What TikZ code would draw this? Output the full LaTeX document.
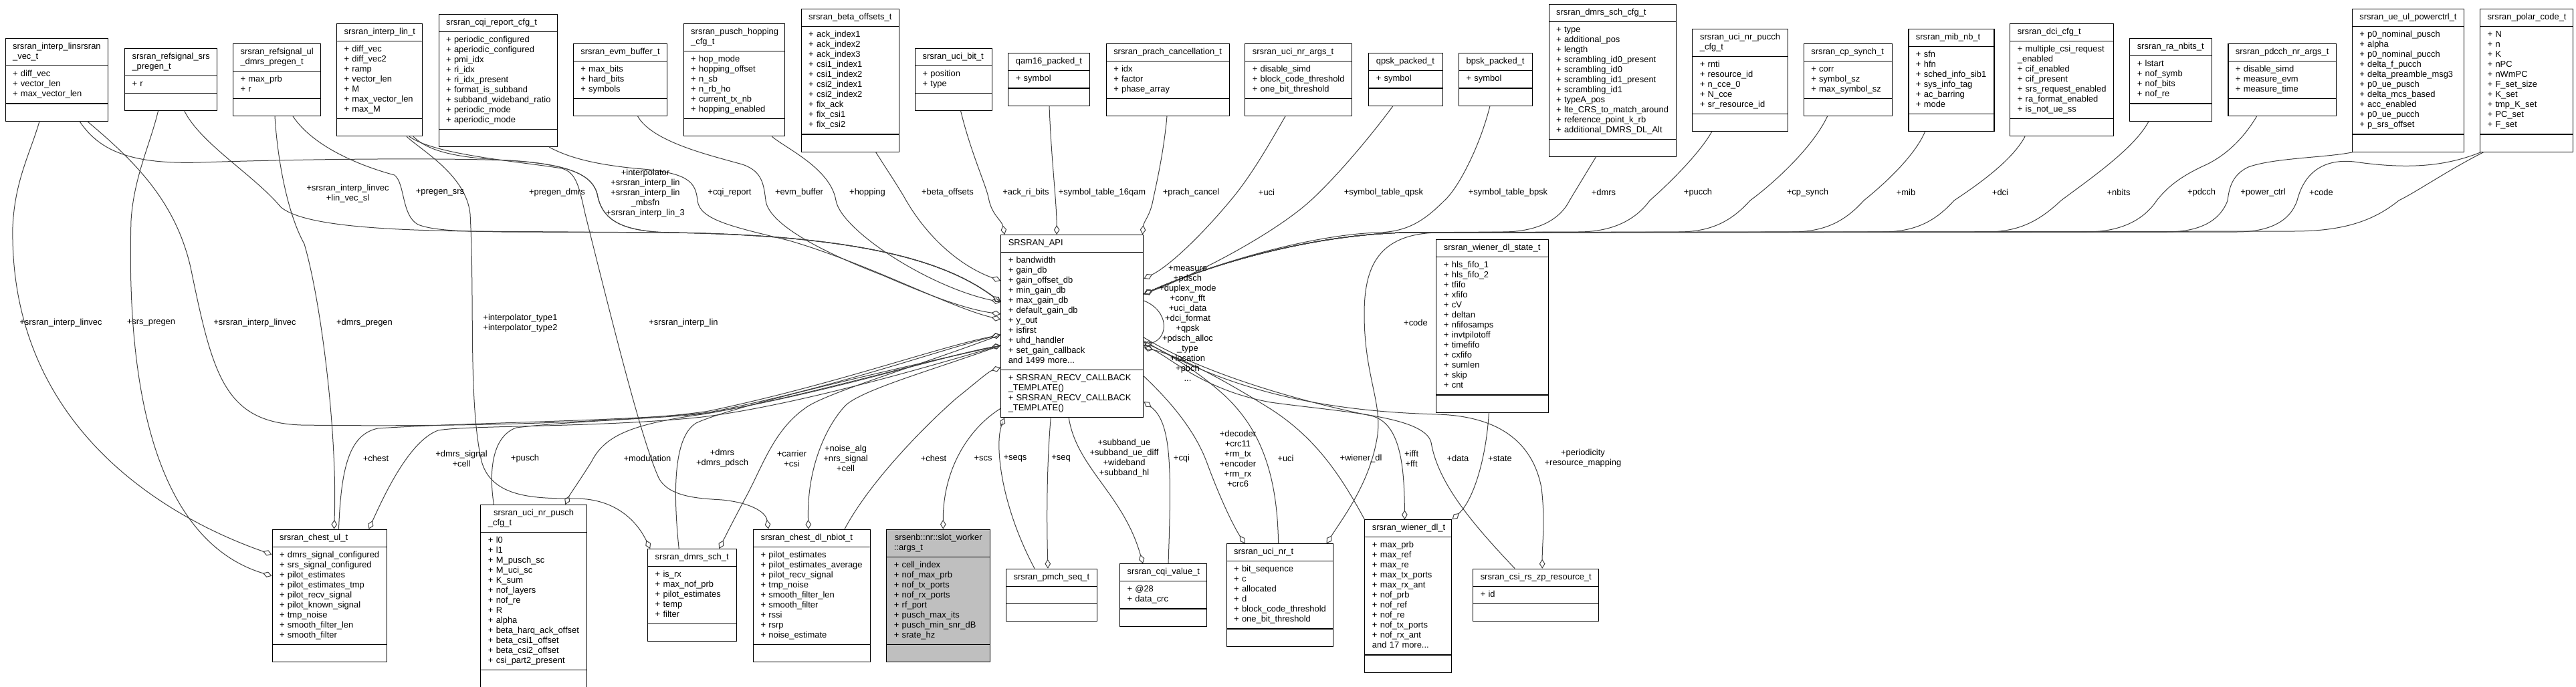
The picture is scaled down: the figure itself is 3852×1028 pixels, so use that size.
\documentclass[tikz,border=0pt]{standalone}
\usepackage{fontspec}
\setmainfont{Liberation Sans}
\usetikzlibrary{arrows.meta}
\usetikzlibrary{positioning}
\usetikzlibrary{shapes.multipart}
\usetikzlibrary{calc}

\newcommand{\umlfont}{\fontsize{9.7pt}{11.25pt}\selectfont\hyphenpenalty=10000\exhyphenpenalty=10000\hbadness=10000\hfuzz=20pt}
\tikzset{
  umlbox/.style={rectangle split, rectangle split parts=3, draw=black, line width=0.8pt,
    fill=white, inner xsep=8.25pt, inner ysep=3.75pt, anchor=north west, font=\umlfont, align=left},
  rel/.style={draw=black!75, line width=0.75pt, -{Diamond[open,length=10.5pt,width=6.5pt]}},
  lbl/.style={font=\umlfont, align=center, inner sep=0pt},
}
% [style] name, x, y, width, title, attributes, methods
\newcommand{\umlclass}[8][]{%
  \pgfmathsetlengthmacro{\umltw}{#5*0.75pt-16.5pt}%
  \node[umlbox, text width=\umltw, #1] (#2) at (#3,#4)
    {\centering\strut#6\strut\nodepart{two}\raggedright\strut#7\strut\nodepart{three}\raggedright\strut#8\strut};%
}

\begin{document}
\catcode`\_=12
\begin{tikzpicture}[x=0.75pt, y=-0.75pt]
  \useasboundingbox (0,0) rectangle (3852,1028);

  % top row
  \umlclass{linvec}{7.6}{57.3}{153}{srsran_interp_linsrsran\\_vec_t}{+~diff_vec\\+~vector_len\\+~max_vector_len}{}
  \umlclass{srspregen}{186}{71.7}{138}{srsran_refsignal_srs\\_pregen_t}{+~r}{}
  \umlclass{dmrspregen}{348}{64.7}{130.5}{srsran_refsignal_ul\\_dmrs_pregen_t}{+~max_prb\\+~r}{}
  \umlclass{interplin}{503}{35}{127.5}{srsran_interp_lin_t}{+~diff_vec\\+~diff_vec2\\+~ramp\\+~vector_len\\+~M\\+~max_vector_len\\+~max_M}{}
  \umlclass{cqirep}{655.6}{20.7}{177}{srsran_cqi_report_cfg_t}{+~periodic_configured\\+~aperiodic_configured\\+~pmi_idx\\+~ri_idx\\+~ri_idx_present\\+~format_is_subband\\+~subband_wideband_ratio\\+~periodic_mode\\+~aperiodic_mode}{}
  \umlclass{evmbuf}{856.8}{64.7}{140}{srsran_evm_buffer_t}{+~max_bits\\+~hard_bits\\+~symbols}{}
  \umlclass{hopping}{1021.7}{35}{151.6}{srsran_pusch_hopping\\_cfg_t}{+~hop_mode\\+~hopping_offset\\+~n_sb\\+~n_rb_ho\\+~current_tx_nb\\+~hopping_enabled}{}
  \umlclass{betaoff}{1197.7}{13.3}{146.3}{srsran_beta_offsets_t}{+~ack_index1\\+~ack_index2\\+~ack_index3\\+~csi1_index1\\+~csi1_index2\\+~csi2_index1\\+~csi2_index2\\+~fix_ack\\+~fix_csi1\\+~fix_csi2}{}
  \umlclass{ucibit}{1368}{71.7}{115}{srsran_uci_bit_t}{+~position\\+~type}{}
  \umlclass{qam16}{1507.3}{79.3}{121.6}{qam16_packed_t}{+~symbol}{}
  \umlclass{prach}{1653.7}{64.7}{184}{srsran_prach_cancellation_t}{+~idx\\+~factor\\+~phase_array}{}
  \umlclass{ucinrargs}{1861.3}{64.7}{160}{srsran_uci_nr_args_t}{+~disable_simd\\+~block_code_threshold\\+~one_bit_threshold}{}
  \umlclass{qpsk}{2046.3}{79.3}{110.2}{qpsk_packed_t}{+~symbol}{}
  \umlclass{bpsk}{2181}{79.3}{110.2}{bpsk_packed_t}{+~symbol}{}
  \umlclass{dmrsschcfg}{2315.6}{5.7}{190.7}{srsran_dmrs_sch_cfg_t}{+~type\\+~additional_pos\\+~length\\+~scrambling_id0_present\\+~scrambling_id0\\+~scrambling_id1_present\\+~scrambling_id1\\+~typeA_pos\\+~lte_CRS_to_match_around\\+~reference_point_k_rb\\+~additional_DMRS_DL_Alt}{}
  \umlclass{ucipucch}{2530.3}{42.7}{142.5}{srsran_uci_nr_pucch\\_cfg_t}{+~rnti\\+~resource_id\\+~n_cce_0\\+~N_cce\\+~sr_resource_id}{}
  \umlclass{cpsynch}{2696.8}{64.7}{131.7}{srsran_cp_synch_t}{+~corr\\+~symbol_sz\\+~max_symbol_sz}{}
  \umlclass{mibnb}{2853.4}{42.7}{128}{srsran_mib_nb_t}{+~sfn\\+~hfn\\+~sched_info_sib1\\+~sys_info_tag\\+~ac_barring\\+~mode}{}
  \umlclass{dcicfg}{3005.3}{35}{155}{srsran_dci_cfg_t}{+~multiple_csi_request\\_enabled\\+~cif_enabled\\+~cif_present\\+~srs_request_enabled\\+~ra_format_enabled\\+~is_not_ue_ss}{}
  \umlclass{ranbits}{3184.2}{57.3}{122.7}{srsran_ra_nbits_t}{+~lstart\\+~nof_symb\\+~nof_bits\\+~nof_re}{}
  \umlclass{pdcchargs}{3331.4}{64.7}{161.3}{srsran_pdcch_nr_args_t}{+~disable_simd\\+~measure_evm\\+~measure_time}{}
  \umlclass{powerctrl}{3516.8}{13.3}{166.8}{srsran_ue_ul_powerctrl_t}{+~p0_nominal_pusch\\+~alpha\\+~p0_nominal_pucch\\+~delta_f_pucch\\+~delta_preamble_msg3\\+~p0_ue_pusch\\+~delta_mcs_based\\+~acc_enabled\\+~p0_ue_pucch\\+~p_srs_offset}{}
  \umlclass{polar}{3708.1}{13.3}{139}{srsran_polar_code_t}{+~N\\+~n\\+~K\\+~nPC\\+~nWmPC\\+~F_set_size\\+~K_set\\+~tmp_K_set\\+~PC_set\\+~F_set}{}

  % middle
  \umlclass{api}{1496.2}{351}{213.2}{SRSRAN_API}{+~bandwidth\\+~gain_db\\+~gain_offset_db\\+~min_gain_db\\+~max_gain_db\\+~default_gain_db\\+~y_out\\+~isfirst\\+~uhd_handler\\+~set_gain_callback\\and~1499~more...}{+~SRSRAN_RECV_CALLBACK\\_TEMPLATE()\\+~SRSRAN_RECV_CALLBACK\\_TEMPLATE()}
  \umlclass{wienerstate}{2147.4}{358.3}{167.5}{srsran_wiener_dl_state_t}{+~hls_fifo_1\\+~hls_fifo_2\\+~tfifo\\+~xfifo\\+~cV\\+~deltan\\+~nfifosamps\\+~invtpilotoff\\+~timefifo\\+~cxfifo\\+~sumlen\\+~skip\\+~cnt}{}

  % bottom row
  \umlclass{chestul}{406.5}{791.7}{171}{srsran_chest_ul_t}{+~dmrs_signal_configured\\+~srs_signal_configured\\+~pilot_estimates\\+~pilot_estimates_tmp\\+~pilot_recv_signal\\+~pilot_known_signal\\+~tmp_noise\\+~smooth_filter_len\\+~smooth_filter}{}
  \umlclass{ucipusch}{718.4}{755}{158.4}{srsran_uci_nr_pusch\\_cfg_t}{+~l0\\+~l1\\+~M_pusch_sc\\+~M_uci_sc\\+~K_sum\\+~nof_layers\\+~nof_re\\+~R\\+~alpha\\+~beta_harq_ack_offset\\+~beta_csi1_offset\\+~beta_csi2_offset\\+~csi_part2_present}{}
  \umlclass{dmrssch}{968.2}{821}{133}{srsran_dmrs_sch_t}{+~is_rx\\+~max_nof_prb\\+~pilot_estimates\\+~temp\\+~filter}{}
  \umlclass{chestnbiot}{1126}{791.7}{174.8}{srsran_chest_dl_nbiot_t}{+~pilot_estimates\\+~pilot_estimates_average\\+~pilot_recv_signal\\+~tmp_noise\\+~smooth_filter_len\\+~smooth_filter\\+~rssi\\+~rsrp\\+~noise_estimate}{}
  \umlclass[fill=black!25]{argst}{1325.3}{791.7}{154.7}{srsenb::nr::slot_worker\\::args_t}{+~cell_index\\+~nof_max_prb\\+~nof_tx_ports\\+~nof_rx_ports\\+~rf_port\\+~pusch_max_its\\+~pusch_min_snr_dB\\+~srate_hz}{}
  \umlclass{pmchseq}{1504}{850.7}{136}{srsran_pmch_seq_t}{}{}
  \umlclass{cqivalue}{1674}{843.3}{129.5}{srsran_cqi_value_t}{+~@28\\+~data_crc}{}
  \umlclass{ucinr}{1833.6}{813.3}{159}{srsran_uci_nr_t}{+~bit_sequence\\+~c\\+~allocated\\+~d\\+~block_code_threshold\\+~one_bit_threshold}{}
  \umlclass{wienerdl}{2040.4}{777.3}{130}{srsran_wiener_dl_t}{+~max_prb\\+~max_ref\\+~max_re\\+~max_tx_ports\\+~max_rx_ant\\+~nof_prb\\+~nof_ref\\+~nof_re\\+~nof_tx_ports\\+~nof_rx_ant\\and~17~more...}{}
  \umlclass{csizp}{2202.2}{850.7}{188}{srsran_csi_rs_zp_resource_t}{+~id}{}

  % long edges on the left
  \draw[rel] ($(linvec.south west)+(51.4,0)$) .. controls (45,230) and (22,270) .. (19,340) .. controls (14,640) and (250,775) .. ($(chestul.north west)+(0,38)$);
  \draw[rel] ($(srspregen.south west)+(50.5,0)$) .. controls (225,215) and (200,265) .. (196,330) .. controls (185,720) and (300,830) .. ($(chestul.north west)+(0,70)$);
  \draw[rel] ($(dmrspregen.south west)+(63,0)$) .. controls (415,240) and (430,320) .. (455,365) .. controls (480,450) and (505,650) .. ($(chestul.north west)+(93,0)$);
  \draw[rel] ($(interplin.south west)+(105,0)$) .. controls (630,225) and (697,262) .. (703,320) .. controls (710,450) and (700,600) .. (720,690) .. controls (735,745) and (800,746) .. (860,746) .. controls (925,746) and (955,785) .. ($(dmrssch.north west)+(4,0)$);
  \draw[rel] ($(interplin.south west)+(109,0)$) .. controls (650,232) and (780,242) .. (840,252) .. controls (862,258) and (866,280) .. (875,320) .. controls (920,500) and (960,660) .. (985,715) .. controls (1000,745) and (1050,746) .. (1080,748) .. controls (1120,752) and (1145,765) .. ($(chestnbiot.north west)+(23,0)$);
  \draw[rel] ($(linvec.south west)+(122.9,0)$) .. controls (200,240) and (262,300) .. (285,400) .. controls (318,560) and (335,632) .. (450,636) .. controls (750,640) and (980,628) .. (1060,615) .. controls (1250,575) and (1400,520) .. ($(api.north west)+(0,150)$);

  % top row into SRSRAN_API
  \draw[rel] ($(linvec.south west)+(111.4,0)$) .. controls (150,228) and (200,246) .. (300,243) .. controls (450,238) and (650,236) .. (760,240) .. controls (860,246) and (886,265) .. (893,290) .. controls (900,330) and (930,346) .. (1000,348) .. controls (1300,352) and (1420,395) .. ($(api.north west)+(0,101)$);
  \draw[rel] ($(srspregen.south west)+(89.7,0)$) .. controls (300,215) and (380,262) .. (420,310) .. controls (450,335) and (550,344) .. (700,346) -- (1000,348) .. controls (1300,352) and (1420,395) .. ($(api.north west)+(0,101)$);
  \draw[rel] ($(dmrspregen.south west)+(90,0)$) .. controls (470,222) and (545,250) .. (590,262) .. controls (606,275) and (600,322) .. (625,336) .. controls (650,346) and (700,346) .. (750,347) -- (1000,348) .. controls (1300,352) and (1420,395) .. ($(api.north west)+(0,101)$);
  \draw[rel] ($(interplin.south west)+(115,0)$) .. controls (640,226) and (680,236) .. (760,240) .. controls (860,246) and (886,265) .. (893,290) .. controls (900,330) and (930,346) .. (1000,348) .. controls (1300,352) and (1420,395) .. ($(api.north west)+(0,101)$);
  \draw[rel] ($(cqirep.south west)+(165.4,0)$) .. controls (850,236) and (890,246) .. (950,252) .. controls (1030,258) and (1040,272) .. (1043,300) .. controls (1046,330) and (1100,340) .. (1180,360) .. controls (1300,395) and (1420,460) .. ($(api.north west)+(0,127)$);
  \draw[rel] ($(evmbuf.south west)+(96.8,0)$) .. controls (975,212) and (1060,232) .. (1110,246) .. controls (1140,256) and (1142,276) .. (1145,300) .. controls (1150,340) and (1250,385) .. (1320,412) .. controls (1385,440) and (1440,462) .. ($(api.north west)+(0,119)$);
  \draw[rel] ($(hopping.south west)+(132.6,0)$) .. controls (1175,222) and (1242,252) .. (1250,300) .. controls (1258,345) and (1390,430) .. ($(api.north west)+(0,101)$);
  \draw[rel] ($(betaoff.south west)+(111.8,0)$) .. controls (1325,252) and (1345,282) .. (1355,300) .. controls (1390,360) and (1440,400) .. ($(api.north west)+(0,69)$);
  \draw[rel] ($(ucibit.south west)+(68.6,0)$) .. controls (1452,230) and (1476,280) .. (1479,300) .. controls (1484,322) and (1498,330) .. ($(api.north west)+(6,0)$);
  \draw[rel] ($(qam16.south west)+(61.7,0)$) .. controls (1572,240) and (1580,300) .. ($(api.north west)+(84,0)$);
  \draw[rel] ($(prach.south west)+(91.3,0)$) .. controls (1740,230) and (1728,280) .. (1724,300) .. controls (1720,322) and (1710,332) .. ($(api.north east)+(-2,0)$);
  \draw[rel] ($(ucinrargs.south west)+(60.7,0)$) .. controls (1900,212) and (1872,262) .. (1840,300) .. controls (1790,360) and (1745,400) .. ($(api.north east)+(0,66)$);
  \draw[rel] ($(qpsk.south west)+(36.7,0)$) .. controls (2045,210) and (1995,268) .. (1960,300) .. controls (1905,350) and (1790,410) .. ($(api.north east)+(0,89)$);
  \draw[rel] ($(bpsk.south west)+(47,0)$) .. controls (2212,222) and (2180,282) .. (2160,300) .. controls (2130,330) and (2105,347) .. (2060,348) .. controls (1950,352) and (1800,400) .. ($(api.north east)+(0,89)$);
  \draw[rel] ($(dmrsschcfg.south west)+(70.8,0)$) .. controls (2376,252) and (2356,285) .. (2347,300) .. controls (2332,330) and (2297,347) .. (2247,347) -- (2100,348) .. controls (1950,352) and (1800,400) .. ($(api.north east)+(0,89)$);
  \draw[rel] ($(ucipucch.south west)+(29.5,0)$) .. controls (2540,232) and (2490,280) .. (2467,300) .. controls (2445,330) and (2410,347) .. (2360,347) -- (2100,348) .. controls (1950,352) and (1800,400) .. ($(api.north east)+(0,89)$);
  \draw[rel] ($(cpsynch.south west)+(35.8,0)$) .. controls (2710,222) and (2650,276) .. (2617,300) .. controls (2590,330) and (2560,347) .. (2510,347) -- (2100,348) .. controls (1950,352) and (1800,400) .. ($(api.north east)+(0,89)$);
  \draw[rel] ($(mibnb.south west)+(25.2,0)$) .. controls (2862,236) and (2812,280) .. (2787,300) .. controls (2760,330) and (2730,347) .. (2680,347) -- (2100,348) .. controls (1950,352) and (1800,400) .. ($(api.north east)+(0,89)$);
  \draw[rel] ($(dcicfg.south west)+(22.7,0)$) .. controls (3008,242) and (2952,280) .. (2922,300) .. controls (2895,330) and (2865,347) .. (2815,347) -- (2100,348) .. controls (1950,352) and (1800,400) .. ($(api.north east)+(0,89)$);
  \draw[rel] ($(ranbits.south west)+(28.8,0)$) .. controls (3192,222) and (3122,270) .. (3082,300) .. controls (3050,330) and (3020,347) .. (2970,347) -- (2100,348) .. controls (1950,352) and (1800,400) .. ($(api.north east)+(0,89)$);
  \draw[rel] ($(pdcchargs.south west)+(43.2,0)$) .. controls (3356,205) and (3332,230) .. (3300,246) .. controls (3255,266) and (3238,284) .. (3225,300) .. controls (3205,330) and (3170,347) .. (3120,347) -- (2100,348) .. controls (1950,352) and (1800,400) .. ($(api.north east)+(0,89)$);
  \draw[rel] ($(powerctrl.south west)+(2,0)$) .. controls (3480,236) and (3400,236) .. (3362,250) .. controls (3336,262) and (3333,285) .. (3331,300) .. controls (3320,330) and (3290,347) .. (3240,347) -- (2100,348) .. controls (1950,352) and (1800,400) .. ($(api.north east)+(0,89)$);
  \draw[rel] ($(polar.south west)+(2,0)$) .. controls (3650,252) and (3590,252) .. (3520,242) .. controls (3462,236) and (3442,272) .. (3435,300) .. controls (3425,330) and (3395,347) .. (3345,347) -- (2100,348) .. controls (1950,352) and (1800,400) .. ($(api.north east)+(0,89)$);
  \draw[rel] ($(polar.south west)+(6,0)$) .. controls (3665,252) and (3612,288) .. (3587,300) .. controls (3550,330) and (3505,346) .. (3430,346) -- (2150,348) .. controls (2060,350) and (2040,400) .. (2040,470) .. controls (2040,560) and (2066,600) .. (2060,650) .. controls (2050,720) and (2010,772) .. ($(ucinr.north east)+(-10,0)$);
  \draw[rel] ($(api.north east)+(0,99)$) .. controls (1748,465) and (1748,505) .. ($(api.north east)+(0,166)$);

  % SRSRAN_API and the bottom row
  \draw[rel] ($(chestul.north west)+(100,0)$) .. controls (510,700) and (522,650) .. (565,641) .. controls (700,632) and (950,630) .. (1060,617) .. controls (1250,580) and (1400,525) .. ($(api.north west)+(0,150)$);
  \draw[rel] ($(api.north west)+(0,166)$) .. controls (1400,545) and (1200,605) .. (1050,624) .. controls (900,640) and (700,636) .. (655,644) .. controls (612,660) and (575,740) .. ($(chestul.north west)+(145,0)$);
  \draw[rel] ($(ucipusch.north west)+(20,0)$) .. controls (730,700) and (738,652) .. (772,640) .. controls (850,630) and (1000,626) .. (1060,618) .. controls (1250,585) and (1400,535) .. ($(api.north west)+(0,166)$);
  \draw[rel] ($(api.north west)+(0,166)$) .. controls (1400,535) and (1200,595) .. (1050,620) .. controls (950,634) and (905,650) .. (885,690) .. controls (865,722) and (852,740) .. ($(ucipusch.north west)+(127,0)$);
  \draw[rel] ($(dmrssch.north west)+(47,0)$) .. controls (1005,722) and (1010,652) .. (1041,633) .. controls (1090,610) and (1300,560) .. ($(api.north west)+(0,166)$);
  \draw[rel] ($(api.north west)+(0,150)$) .. controls (1380,545) and (1235,588) .. (1205,610) .. controls (1155,645) and (1140,700) .. (1112,750) .. controls (1096,780) and (1086,800) .. ($(dmrssch.north west)+(107,0)$);
  \draw[rel] ($(api.north west)+(0,166)$) .. controls (1400,552) and (1292,582) .. (1265,606) .. controls (1236,636) and (1206,700) .. ($(chestnbiot.north west)+(83,0)$);
  \draw[rel] ($(chestnbiot.north west)+(137,0)$) .. controls (1300,722) and (1380,640) .. (1430,596) .. controls (1460,572) and (1478,556) .. ($(api.north west)+(0,199)$);
  \draw[rel] ($(api.south west)+(0,-14)$) .. controls (1450,640) and (1410,700) .. ($(argst.north west)+(85,0)$);
  \draw[rel] ($(pmchseq.north west)+(43,0)$) .. controls (1500,762) and (1490,682) .. (1495,648) .. controls (1497,636) and (1500,630) .. ($(api.south west)+(6,0)$);
  \draw[rel] ($(api.south west)+(75,0)$) .. controls (1565,700) and (1565,780) .. ($(pmchseq.north west)+(63,0)$);
  \draw[rel] ($(api.south west)+(102,0)$) .. controls (1610,700) and (1680,740) .. ($(cqivalue.north west)+(35,0)$);
  \draw[rel] ($(cqivalue.north west)+(73,0)$) .. controls (1752,700) and (1752,632) .. ($(api.north east)+(0,250)$);
  \draw[rel] ($(api.north east)+(0,212)$) .. controls (1760,610) and (1790,652) .. (1805,693) .. controls (1826,750) and (1846,790) .. ($(ucinr.north west)+(28,0)$);
  \draw[rel] ($(ucinr.north west)+(78,0)$) .. controls (1910,700) and (1880,632) .. (1820,582) .. controls (1780,548) and (1740,526) .. ($(api.north east)+(0,161)$);
  \draw[rel] (wienerdl.north west) .. controls (2000,702) and (1962,652) .. (1900,612) .. controls (1820,562) and (1760,532) .. ($(api.north east)+(0,169)$);
  \draw[rel] ($(api.north east)+(0,154)$) .. controls (1800,560) and (1950,602) .. (2050,622) .. controls (2092,632) and (2100,690) .. ($(wienerdl.north west)+(60,0)$);
  \draw[rel] ($(csizp.north west)+(63,0)$) .. controls (2200,782) and (2150,722) .. (2140,662) .. controls (2130,622) and (2000,616) .. (1900,602) .. controls (1800,584) and (1752,536) .. ($(api.north east)+(0,166)$);
  \draw[rel] ($(wienerstate.south west)+(79,0)$) .. controls (2222,690) and (2202,750) .. (wienerdl.north east);
  \draw[rel] ($(api.north east)+(0,159)$) .. controls (1850,592) and (2000,616) .. (2150,620) .. controls (2242,623) and (2292,662) .. (2305,730) .. controls (2311,782) and (2306,812) .. ($(csizp.north west)+(104,0)$);

  % member labels
  \node[lbl] (llinvec) at (520,289.5) {+srsran_interp_linvec\\+lin_vec_sl};
  \node[lbl] (lpregensrs) at (658,288) {+pregen_srs};
  \node[lbl] (lpregendmrs) at (833,288) {+pregen_dmrs};
  \node[lbl] (linterp) at (965,289.3) {+interpolator\\+srsran_interp_lin\\+srsran_interp_lin\\_mbsfn\\+srsran_interp_lin_3};
  \node[lbl] (lcqirep) at (1091,288) {+cqi_report};
  \node[lbl] (levm) at (1195,288) {+evm_buffer};
  \node[lbl] (lhopping) at (1297,288) {+hopping};
  \node[lbl] (lbeta) at (1417,288) {+beta_offsets};
  \node[lbl] (lackri) at (1534,288) {+ack_ri_bits};
  \node[lbl] (lqam16) at (1648,288) {+symbol_table_16qam};
  \node[lbl] (lprach) at (1781,288) {+prach_cancel};
  \node[lbl] (luciargs) at (1894,288) {+uci};
  \node[lbl] (lqpsk) at (2069,288) {+symbol_table_qpsk};
  \node[lbl] (lbpsk) at (2255,288) {+symbol_table_bpsk};
  \node[lbl] (ldmrs) at (2398,288) {+dmrs};
  \node[lbl] (lpucch) at (2539,288) {+pucch};
  \node[lbl] (lcpsynch) at (2703,288) {+cp_synch};
  \node[lbl] (lmib) at (2850,288) {+mib};
  \node[lbl] (ldci) at (2991,288) {+dci};
  \node[lbl] (lnbits) at (3168,288) {+nbits};
  \node[lbl] (lpdcch) at (3292,288) {+pdcch};
  \node[lbl] (lpowerctrl) at (3384,288) {+power_ctrl};
  \node[lbl] (lcode) at (3471,288) {+code};

  \node[lbl] (lvec1) at (91,483) {+srsran_interp_linvec};
  \node[lbl] (lsrspregen) at (226,483) {+srs_pregen};
  \node[lbl] (lvec2) at (381,483) {+srsran_interp_linvec};
  \node[lbl] (ldmrspregen) at (545,483) {+dmrs_pregen};
  \node[lbl] (ltype) at (778,483.5) {+interpolator_type1\\+interpolator_type2};
  \node[lbl] (llin) at (1022,483) {+srsran_interp_lin};
  \node[lbl] (lcode2) at (2117,483) {+code};
  \node[lbl] (lself) at (1776,484.3) {+measure\\+pdsch\\+duplex_mode\\+conv_fft\\+uci_data\\+dci_format\\+qpsk\\+pdsch_alloc\\_type\\+location\\+pbch\\...};

  \node[lbl] (lchest1) at (562,686) {+chest};
  \node[lbl] (ldmrssig) at (690,686) {+dmrs_signal\\+cell};
  \node[lbl] (lpusch) at (785,686) {+pusch};
  \node[lbl] (lmod) at (968,686) {+modulation};
  \node[lbl] (ldmrspdsch) at (1080,686) {+dmrs\\+dmrs_pdsch};
  \node[lbl] (lcarrier) at (1184,686) {+carrier\\+csi};
  \node[lbl] (lnoise) at (1264.5,686) {+noise_alg\\+nrs_signal\\+cell};
  \node[lbl] (lchest2) at (1396,686) {+chest};
  \node[lbl] (lscs) at (1470,686) {+scs};
  \node[lbl] (lseqs) at (1518,686) {+seqs};
  \node[lbl] (lseq) at (1586.5,686) {+seq};
  \node[lbl] (lsubband) at (1681,686) {+subband_ue\\+subband_ue_diff\\+wideband\\+subband_hl};
  \node[lbl] (lcqi) at (1767,686) {+cqi};
  \node[lbl] (ldecoder) at (1851,686) {+decoder\\+crc11\\+rm_tx\\+encoder\\+rm_rx\\+crc6};
  \node[lbl] (luci) at (1922.5,686) {+uci};
  \node[lbl] (lwiener) at (2035,686) {+wiener_dl};
  \node[lbl] (lfft) at (2110.6,686) {+ifft\\+fft};
  \node[lbl] (ldata) at (2180,686) {+data};
  \node[lbl] (lstate) at (2243,686) {+state};
  \node[lbl] (lperiod) at (2367,686) {+periodicity\\+resource_mapping};
\end{tikzpicture}
\end{document}
